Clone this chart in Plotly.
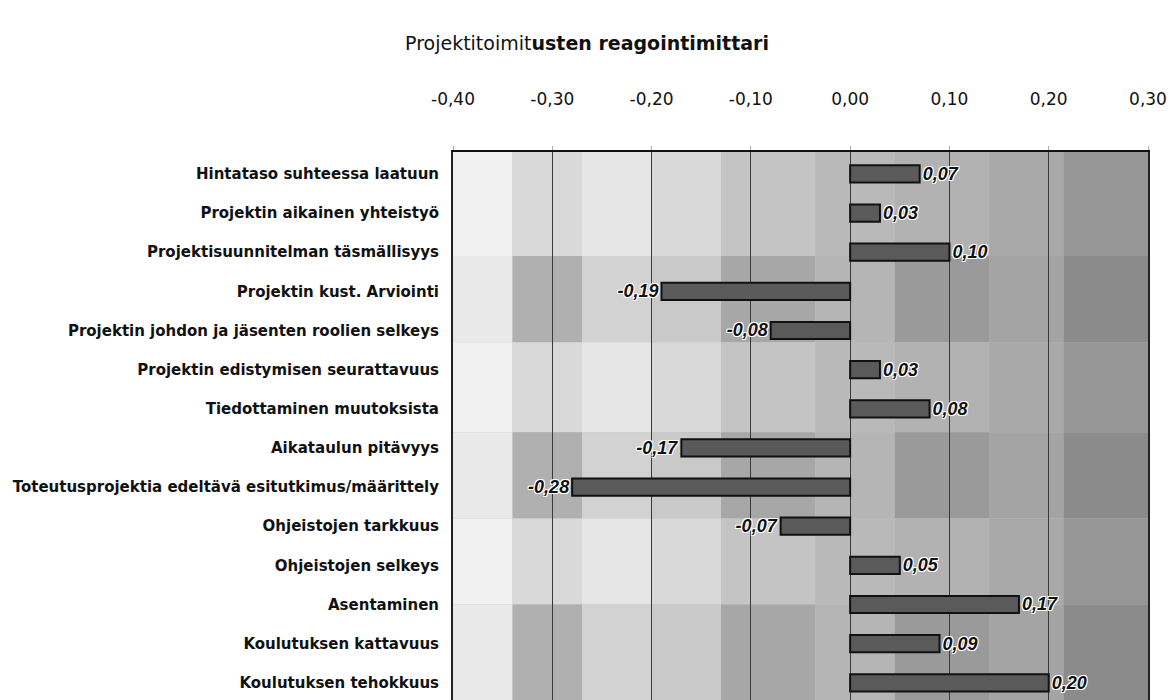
import plotly.graph_objects as go

# Survey items (top to bottom) and their reaction index values
categories = [
    "Hintataso suhteessa laatuun",
    "Projektin aikainen yhteistyö",
    "Projektisuunnitelman täsmällisyys",
    "Projektin kust. Arviointi",
    "Projektin johdon ja jäsenten roolien selkeys",
    "Projektin edistymisen seurattavuus",
    "Tiedottaminen muutoksista",
    "Aikataulun pitävyys",
    "Toteutusprojektia edeltävä esitutkimus/määrittely",
    "Ohjeistojen tarkkuus",
    "Ohjeistojen selkeys",
    "Asentaminen",
    "Koulutuksen kattavuus",
    "Koulutuksen tehokkuus",
]
values = [0.07, 0.03, 0.10, -0.19, -0.08, 0.03, 0.08, -0.17, -0.28, -0.07, 0.05, 0.17, 0.09, 0.20]

tick_values = [-0.40, -0.30, -0.20, -0.10, 0.00, 0.10, 0.20, 0.30]
tick_labels = ["-0,40", "-0,30", "-0,20", "-0,10", "0,00", "0,10", "0,20", "0,30"]

value_labels = [f"{v:.2f}".replace(".", ",") for v in values]

FONT = "Liberation Sans, Arial, sans-serif"
WIDE = "DejaVu Sans, Verdana, sans-serif"

fig = go.Figure()
fig.add_trace(go.Bar(
    x=values,
    y=categories,
    orientation="h",
    width=0.44,
    marker=dict(color="#5a5a5a", line=dict(color="#111111", width=2)),
    text=value_labels,
    textposition="outside",
    constraintext="none",
    cliponaxis=False,
    textfont=dict(
        family=FONT, size=18, color="#111111", weight="bold", style="italic",
        shadow="1px 1px 0 #ffffff, -1px -1px 0 #ffffff, 1px -1px 0 #ffffff, -1px 1px 0 #ffffff",
    ),
    hoverinfo="skip",
))

# Shaded background: columns get darker to the right, with alternating row bands
col_edges = [-0.40, -0.34, -0.27, -0.20, -0.13, -0.035, 0.045, 0.14, 0.215, 0.30]
light_band = ["#f0f0f0", "#d9d9d9", "#e6e6e6", "#d8d8d8", "#c4c4c4", "#b9b9b9", "#b2b2b2", "#a9a9a9", "#969696"]
dark_band = ["#e9e9e9", "#b0b0b0", "#d2d2d2", "#c9c9c9", "#a7a7a7", "#b5b5b5", "#9a9a9a", "#a4a4a4", "#8b8b8b"]
band_edges = [-0.6, 2.1, 4.3, 6.6, 8.8, 11.0, 13.6]
shapes = []
for b in range(len(band_edges) - 1):
    palette = dark_band if b % 2 == 1 else light_band
    for c in range(len(col_edges) - 1):
        shapes.append(dict(
            type="rect", xref="x", yref="y", layer="below",
            x0=col_edges[c], x1=col_edges[c + 1],
            y0=band_edges[b], y1=band_edges[b + 1],
            fillcolor=palette[c], line=dict(width=0),
        ))

fig.update_layout(
    width=1172,
    height=700,
    margin=dict(l=453, r=24, t=152, b=0),
    paper_bgcolor="white",
    plot_bgcolor="#c0c0c0",
    showlegend=False,
    shapes=shapes,
    title=dict(
        text="Projektitoimit<b>usten reagointimittari</b>",
        x=587 / 1172, xref="container", xanchor="center",
        y=1 - 43 / 700, yref="container", yanchor="middle",
        font=dict(family=WIDE, size=19, color="#111111"),
    ),
    xaxis=dict(
        side="top",
        range=[-0.40, 0.30],
        tickvals=tick_values,
        ticktext=tick_labels,
        tickfont=dict(family=WIDE, size=17, color="#111111"),
        ticks="outside", ticklen=4, tickcolor="#aaaaaa",
        ticklabelstandoff=34,
        showgrid=True, gridcolor="#3a3a3a", gridwidth=1,
        zeroline=False,
        showline=True, linecolor="#111111", linewidth=2, mirror=False,
    ),
    yaxis=dict(
        categoryorder="array",
        categoryarray=categories,
        range=[13.44, -0.56],
        tickfont=dict(family=WIDE, size=15, color="#111111", weight="bold"),
        ticks="", ticklabelstandoff=9,
        showgrid=False,
        showline=True, linecolor="#222222", linewidth=2, mirror=True,
    ),
    # small category ticks along the zero line
    yaxis2=dict(
        overlaying="y", anchor="free",
        position=0.4 / 0.7,
        range=[13.44, -0.56],
        tickvals=[i + 0.5 for i in range(len(categories))],
        showticklabels=False,
        ticks="outside", ticklen=4, tickcolor="#222222",
        showgrid=False, showline=False, zeroline=False,
    ),
)

fig.write_html("out.html")
